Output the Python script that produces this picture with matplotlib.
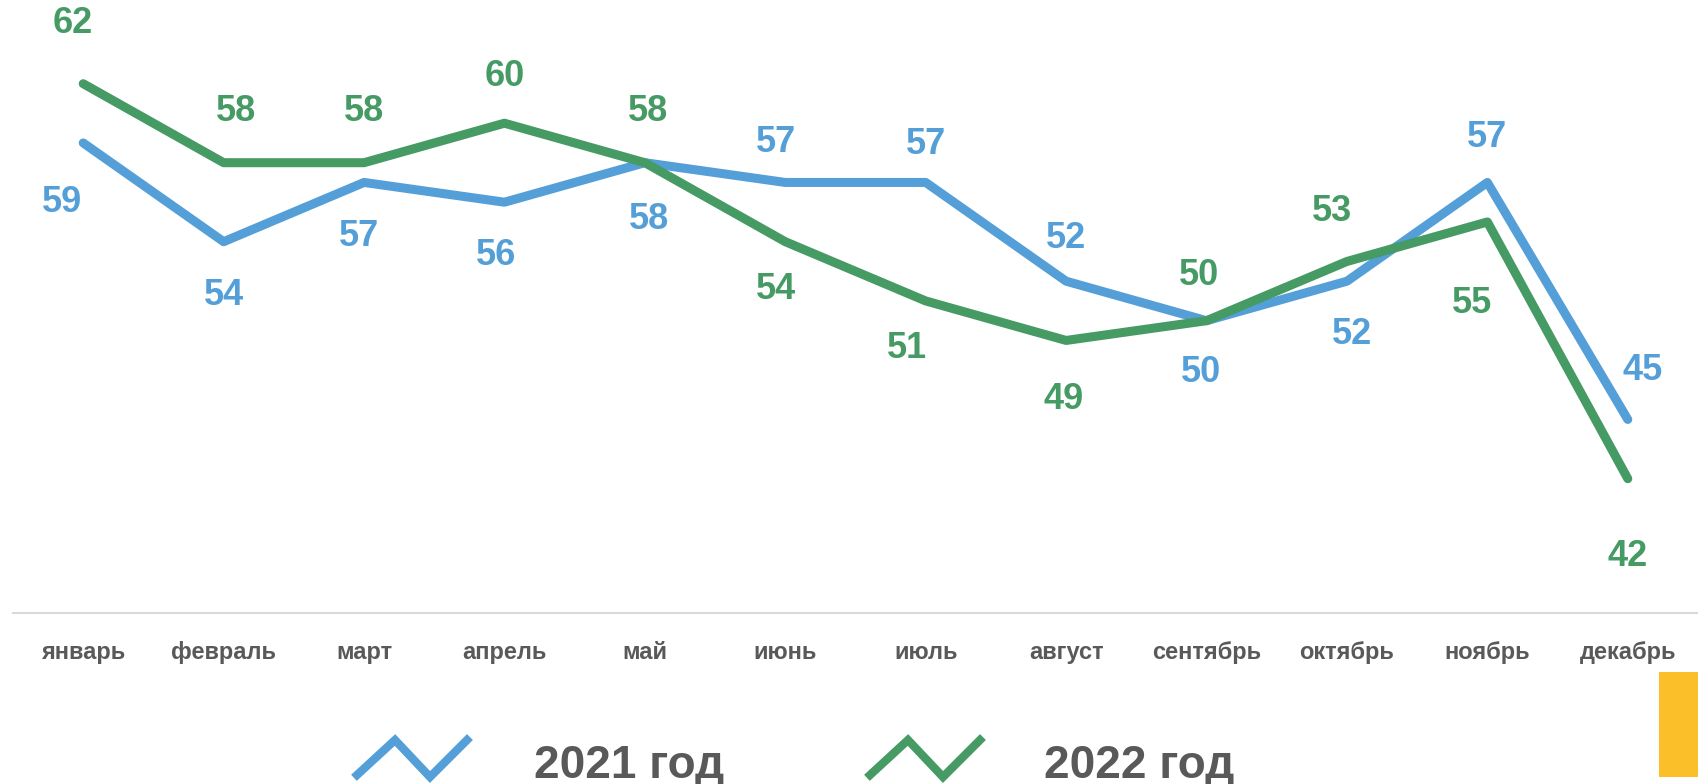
import matplotlib
matplotlib.use("Agg")
import matplotlib.pyplot as plt
from matplotlib.lines import Line2D
from matplotlib.patches import Rectangle

plt.rcParams['font.family'] = ['Liberation Sans', 'DejaVu Sans']

months = ['январь', 'февраль', 'март', 'апрель', 'май', 'июнь',
          'июль', 'август', 'сентябрь', 'октябрь', 'ноябрь', 'декабрь']
y2021 = [59, 54, 57, 56, 58, 57, 57, 52, 50, 52, 57, 45]
y2022 = [62, 58, 58, 60, 58, 54, 51, 49, 50, 53, 55, 42]
series_names = ['2021 год', '2022 год']

blue = '#559fd8'
green = '#469a64'
grey = '#595959'

# label offsets in pixels (dx, dy), positive dy = up
off2021 = [(-21, -60), (0, -54), (-5, -54), (-8, -53), (4, -57), (-9, 40),
           (0, 38), (0, 43), (-6, -52), (5, -53), (0, 45), (15, 49)]
off2022 = [(-10, 60), (12, 51), (0, 51), (0, 47), (3, 51), (-9, -48),
           (-19, -48), (-3, -59), (-8, 45), (-15, 50), (-15, -82), (0, -78)]

W, H = 1699, 784
fig = plt.figure(figsize=(W / 100, H / 100), dpi=100)
ax = fig.add_axes([13 / W, 1 - 613 / H, 1685 / W, 592.5 / H])
ax.set_xlim(-0.5, 11.5)
ax.set_ylim(35.2, 65.2)

x = list(range(len(months)))
for vals, col, offs in [(y2021, blue, off2021), (y2022, green, off2022)]:
    ax.plot(x, vals, color=col, lw=6.5, solid_capstyle='round',
            solid_joinstyle='round')
    for xi, v, (dx, dy) in zip(x, vals, offs):
        ax.annotate(str(v), (xi, v), xytext=(dx, dy), textcoords='offset pixels',
                    ha='center', va='center', fontsize=26, fontweight='bold',
                    color=col)

for s in ['top', 'right', 'left']:
    ax.spines[s].set_visible(False)
ax.spines['bottom'].set_color('#d9d9d9')
ax.spines['bottom'].set_linewidth(1.5)
ax.set_yticks([])
ax.set_xticks(x)
ax.set_xticklabels(months, fontsize=17, fontweight='bold', color=grey)
ax.tick_params(axis='x', length=0, pad=20)

# custom legend at the bottom
def px(xp, yp):
    return xp / W, 1 - yp / H

for col, name, x0, tx in [(blue, series_names[0], 357, 534),
                          (green, series_names[1], 870, 1044)]:
    zx = [x0, x0 + 38, x0 + 73, x0 + 110]
    zy = [775, 740, 777, 740]
    pts = [px(a, b) for a, b in zip(zx, zy)]
    fig.add_artist(Line2D([p[0] for p in pts], [p[1] for p in pts],
                          color=col, lw=6, transform=fig.transFigure,
                          solid_joinstyle='miter'))
    fig.text(tx / W, 1 - 778 / H, name, fontsize=33, fontweight='bold',
             color=grey, ha='left', va='baseline')

fig.add_artist(Rectangle((1659 / W, 1 - 777 / H), 40 / W, 105 / H,
                         transform=fig.transFigure, color='#fbbf2a', lw=0))

fig.savefig('out.png', dpi=100)
